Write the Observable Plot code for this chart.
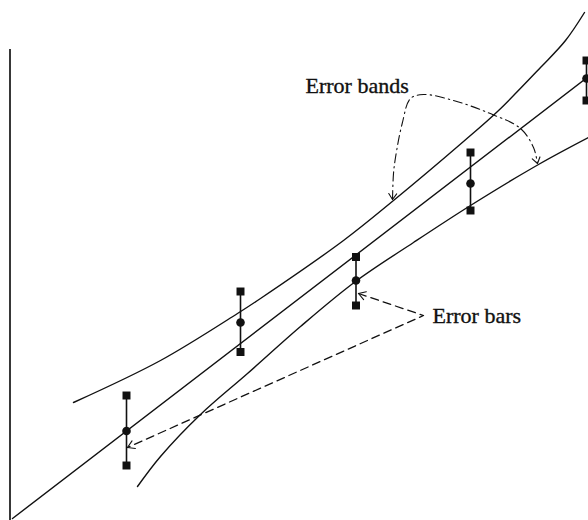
<!DOCTYPE html>
<html><head><meta charset="utf-8">
<script src="https://cdn.jsdelivr.net/npm/d3@7"></script>
<script src="https://cdn.jsdelivr.net/npm/@observablehq/plot@0.6"></script>
<style>body{margin:0;background:#fff} #chart svg{display:block}</style>
</head><body><div id="chart"></div>
<script>
// Error bars (x position, lower end, mean, upper end)
const barX    = [126, 240, 355.5, 470, 586];
const barLow  = [55, 168.5, 215, 310, 420];
const barMid  = [89.5, 198, 240, 337, 442];
const barHigh = [125, 229, 263.5, 368, 460];

// Fitted line
const fitX = [12, 588];
const fitY = [2, 444];

// Error bands
const upperX = [73, 160, 237, 260, 343, 393, 463, 497, 540, 565, 584];
const upperY = [118, 160, 207, 222, 280, 320, 379, 409, 453, 480, 508];
const lowerX = [137, 160, 200, 247, 300, 355, 413, 470, 538, 588];
const lowerY = [34, 64, 106, 147, 194, 239, 278, 315, 356, 383];

// Vertical axis
const axisX = [9.5];
const axisY1 = [0];
const axisY2 = [471];

// Annotation leaders
const bandsLeaderX = [392, 393, 395, 401.7, 410, 423, 453, 487, 520, 533, 537];
const bandsLeaderY = [321, 347, 363, 397, 422, 426, 420, 408, 392, 373, 357];
const barsLeaderX = [358, 423, 127];
const barsLeaderY = [227, 205, 73];

// Labels
const labelText = ["Error bands", "Error bars"];
const labelX = [305, 432];
const labelY = [428, 198];

const zip = (xs, ys) => xs.map((x, i) => ({x, y: ys[i]}));
const bars = barX.map((x, i) => ({x, lo: barLow[i], mid: barMid[i], hi: barHigh[i]}));
const ends = bars.flatMap(d => [{x: d.x, y: d.lo}, {x: d.x, y: d.hi}]);
const labels = labelText.map((t, i) => ({t, x: labelX[i], y: labelY[i]}));

function head(prev, tip, len, ang, id) {
  const dx = prev.x - tip.x, dy = prev.y - tip.y, L = Math.hypot(dx, dy);
  const ux = dx / L, uy = dy / L;
  const rot = a => ({x: tip.x + len * (ux * Math.cos(a) - uy * Math.sin(a)),
                     y: tip.y + len * (ux * Math.sin(a) + uy * Math.cos(a)), id});
  return [rot(ang), {x: tip.x, y: tip.y, id}, rot(-ang)];
}
const bl = zip(bandsLeaderX, bandsLeaderY);
const br = zip(barsLeaderX, barsLeaderY);
const heads = [
  ...head(bl[1], bl[0], 7, 0.6, "a"),
  ...head(bl[bl.length - 2], bl[bl.length - 1], 7, 0.6, "b"),
  ...head(br[1], br[0], 8, 0.55, "c"),
  ...head(br[br.length - 2], br[br.length - 1], 8, 0.55, "d")
];

const ink = "#111";
const chart = Plot.plot({
  width: 588, height: 520,
  marginLeft: 0, marginRight: 0, marginTop: 0, marginBottom: 0,
  x: {domain: [0, 588], axis: null},
  y: {domain: [0, 520], axis: null},
  marks: [
    Plot.ruleX(axisX, {x: d => d, y1: axisY1[0], y2: axisY2[0], stroke: "#222", strokeWidth: 1.8}),
    Plot.line(zip(fitX, fitY), {x: "x", y: "y", stroke: ink, strokeWidth: 1.4}),
    Plot.line(zip(upperX, upperY), {x: "x", y: "y", stroke: ink, strokeWidth: 1.4, curve: "catmull-rom"}),
    Plot.line(zip(lowerX, lowerY), {x: "x", y: "y", stroke: ink, strokeWidth: 1.4, curve: "catmull-rom"}),
    Plot.ruleX(bars, {x: "x", y1: "lo", y2: "hi", stroke: ink, strokeWidth: 1.6}),
    Plot.dot(ends, {x: "x", y: "y", symbol: "square", r: 4.5, fill: ink, stroke: "none"}),
    Plot.dot(bars, {x: "x", y: "mid", r: 4.3, fill: ink, stroke: "none"}),
    Plot.line(bl, {x: "x", y: "y", stroke: ink, strokeWidth: 1.1, curve: "catmull-rom", strokeDasharray: "9,4,1.5,4"}),
    Plot.line(br, {x: "x", y: "y", stroke: ink, strokeWidth: 1.3, strokeDasharray: "8,5"}),
    Plot.line(heads, {x: "x", y: "y", z: "id", stroke: ink, strokeWidth: 1.1}),
    Plot.text(labels, {x: "x", y: "y", text: "t", textAnchor: "start", lineAnchor: "bottom",
      fontSize: 22, fontFamily: "Liberation Serif", fill: ink, stroke: ink, strokeWidth: 0.35})
  ]
});
document.getElementById("chart").append(chart);
</script>
</body></html>
